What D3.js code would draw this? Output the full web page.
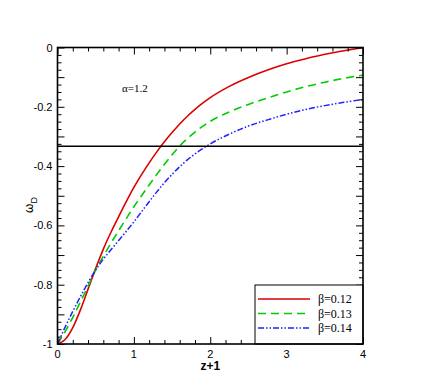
<!DOCTYPE html>
<html lang="en">
<head>
<meta charset="utf-8">
<title>omega_D vs z+1</title>
<script src="https://d3js.org/d3.v7.min.js"></script>
<style>
  body { margin: 0; background: #fff; }
  .tick-label { font-family: "Liberation Sans", Arial, sans-serif; font-size: 11px; fill: #000; }
</style>
</head>
<body>
<script>
// data
var zp1 = [0, 0.1, 0.2, 0.3, 0.4, 0.5, 0.6, 0.7, 0.8, 0.9, 1.0, 1.1, 1.2, 1.3, 1.4, 1.5, 1.6, 1.7, 1.8, 1.9, 2.0, 2.25, 2.5, 2.75, 3.0, 3.25, 3.5, 3.75, 4.0];
var wB012 = [-1, -0.985, -0.945, -0.885, -0.815, -0.745, -0.68, -0.623, -0.571, -0.52, -0.472, -0.429, -0.389, -0.352, -0.318, -0.287, -0.258, -0.232, -0.209, -0.188, -0.169, -0.131, -0.101, -0.076, -0.055, -0.038, -0.023, -0.011, 0];
var wB013 = [-1, -0.958, -0.91, -0.858, -0.805, -0.75, -0.704, -0.66, -0.618, -0.577, -0.537, -0.5, -0.464, -0.428, -0.394, -0.362, -0.332, -0.307, -0.285, -0.266, -0.249, -0.217, -0.192, -0.17, -0.15, -0.132, -0.117, -0.104, -0.093];
var wB014 = [-1, -0.943, -0.89, -0.84, -0.793, -0.75, -0.714, -0.682, -0.651, -0.62, -0.588, -0.554, -0.52, -0.487, -0.456, -0.428, -0.402, -0.379, -0.359, -0.341, -0.325, -0.292, -0.265, -0.244, -0.225, -0.209, -0.196, -0.185, -0.175];
var seriesNames = ["\u03b2=0.12", "\u03b2=0.13", "\u03b2=0.14"];
var xTicks = [0, 1, 2, 3, 4];
var yLabelTicks = [0, -0.2, -0.4, -0.6, -0.8, -1];
var wLine = -1 / 3;

var w = 436, h = 388;
var pLeft = 57.5, pRight = 363, pTop = 47.5, pBottom = 344;

var x = d3.scaleLinear().domain([0, 4]).range([pLeft, pRight]);
var y = d3.scaleLinear().domain([-1, 0]).range([pBottom, pTop]);

var svg = d3.select("body").append("svg").attr("width", w).attr("height", h);

// clip for curves
svg.append("clipPath").attr("id", "clip").append("rect")
  .attr("x", pLeft).attr("y", pTop).attr("width", pRight - pLeft).attr("height", pBottom - pTop);

var styles = [
  { color: "#dd0000", dash: null, width: 1.6 },
  { color: "#00cc00", dash: "8,5", width: 1.6 },
  { color: "#1f1fff", dash: "6,2,1.5,2,1.5,2", width: 1.5 }
];
var series = [wB012, wB013, wB014];

var line = d3.line()
  .x(function(d, i) { return x(zp1[i]); })
  .y(function(d) { return y(d); })
  .curve(d3.curveMonotoneX);

series.forEach(function(s, k) {
  svg.append("path")
    .attr("d", line(s))
    .attr("fill", "none")
    .attr("clip-path", "url(#clip)")
    .attr("stroke", styles[k].color)
    .attr("stroke-width", styles[k].width)
    .attr("stroke-dasharray", styles[k].dash);
});

// horizontal reference line
svg.append("line")
  .attr("x1", pLeft).attr("x2", pRight)
  .attr("y1", y(wLine)).attr("y2", y(wLine))
  .attr("stroke", "#000").attr("stroke-width", 1.5);

// axes: ticks on all four sides, pointing inward
var xMinor = d3.range(0, 4.001, 0.2);
var yMinor = d3.range(-1, 0.001, 0.025);
var yMajor = d3.range(-1, 0.001, 0.1);

function isMajor(v, step) { return Math.abs(v / step - Math.round(v / step)) < 1e-6; }
var xMinorOnly = xMinor.filter(function(v) { return !isMajor(v, 1); });
var yMinorOnly = yMinor.filter(function(v) { return !isMajor(v, 0.1); });

svg.append("g").attr("transform", "translate(0," + pBottom + ")")
  .call(d3.axisTop(x).tickValues(xMinorOnly).tickSize(4).tickFormat(""));
svg.append("g").attr("transform", "translate(0," + pBottom + ")")
  .call(d3.axisTop(x).tickValues(xTicks).tickSize(7).tickFormat(""));
svg.append("g").attr("transform", "translate(0," + pTop + ")")
  .call(d3.axisBottom(x).tickValues(xMinorOnly).tickSize(4).tickFormat(""));
svg.append("g").attr("transform", "translate(0," + pTop + ")")
  .call(d3.axisBottom(x).tickValues(xTicks).tickSize(7).tickFormat(""));

svg.append("g").attr("transform", "translate(" + pLeft + ",0)")
  .call(d3.axisRight(y).tickValues(yMinorOnly).tickSize(4).tickFormat(""));
svg.append("g").attr("transform", "translate(" + pLeft + ",0)")
  .call(d3.axisRight(y).tickValues(yMajor).tickSize(7).tickFormat(""));
svg.append("g").attr("transform", "translate(" + pRight + ",0)")
  .call(d3.axisLeft(y).tickValues(yMinorOnly).tickSize(4).tickFormat(""));
svg.append("g").attr("transform", "translate(" + pRight + ",0)")
  .call(d3.axisLeft(y).tickValues(yMajor).tickSize(7).tickFormat(""));

svg.selectAll(".domain").remove();
svg.selectAll(".tick line").attr("stroke", "#000").attr("stroke-width", 1);

// tick labels
svg.selectAll(".xl").data(xTicks).enter().append("text")
  .attr("class", "tick-label")
  .attr("x", function(d) { return x(d); })
  .attr("y", pBottom + 14)
  .attr("text-anchor", "middle")
  .text(function(d) { return d; });

svg.selectAll(".yl").data(yLabelTicks).enter().append("text")
  .attr("class", "tick-label")
  .attr("x", pLeft - 5)
  .attr("y", function(d) { return y(d) + 4; })
  .attr("text-anchor", "end")
  .text(function(d) { return String(d); });

// axis titles
svg.append("text")
  .attr("x", x(2)).attr("y", 370)
  .attr("text-anchor", "middle")
  .attr("font-family", "Liberation Sans, Arial, sans-serif")
  .attr("font-size", 12).attr("font-weight", "bold")
  .text("z+1");

var yt = svg.append("text")
  .attr("transform", "translate(33,205) rotate(-90)")
  .attr("text-anchor", "middle")
  .attr("font-family", "Liberation Sans, Arial, sans-serif")
  .attr("font-size", 12);
yt.append("tspan").text("\u03c9");
yt.append("tspan").attr("font-size", 9).attr("dy", 4).text("D");

// annotation
svg.append("text")
  .attr("x", 122).attr("y", 92)
  .attr("font-family", "Liberation Serif, Times New Roman, serif")
  .attr("font-size", 11)
  .text("\u03b1=1.2");

// legend
var lg = svg.append("g");
lg.append("rect")
  .attr("x", 255).attr("y", 285).attr("width", pRight - 255).attr("height", pBottom - 285)
  .attr("fill", "#fff").attr("stroke", "#000").attr("stroke-width", 1);
seriesNames.forEach(function(name, k) {
  var yy = 299 + k * 14.5;
  lg.append("line")
    .attr("x1", 258).attr("x2", 310).attr("y1", yy).attr("y2", yy)
    .attr("stroke", styles[k].color).attr("stroke-width", styles[k].width)
    .attr("stroke-dasharray", styles[k].dash);
  lg.append("text")
    .attr("x", 318).attr("y", yy + 4)
    .attr("font-family", "Liberation Serif, Times New Roman, serif")
    .attr("font-size", 12)
    .text(name);
});

// frame on top
svg.append("rect")
  .attr("x", pLeft).attr("y", pTop).attr("width", pRight - pLeft).attr("height", pBottom - pTop)
  .attr("fill", "none").attr("stroke", "#000").attr("stroke-width", 1.6);
</script>
</body>
</html>
